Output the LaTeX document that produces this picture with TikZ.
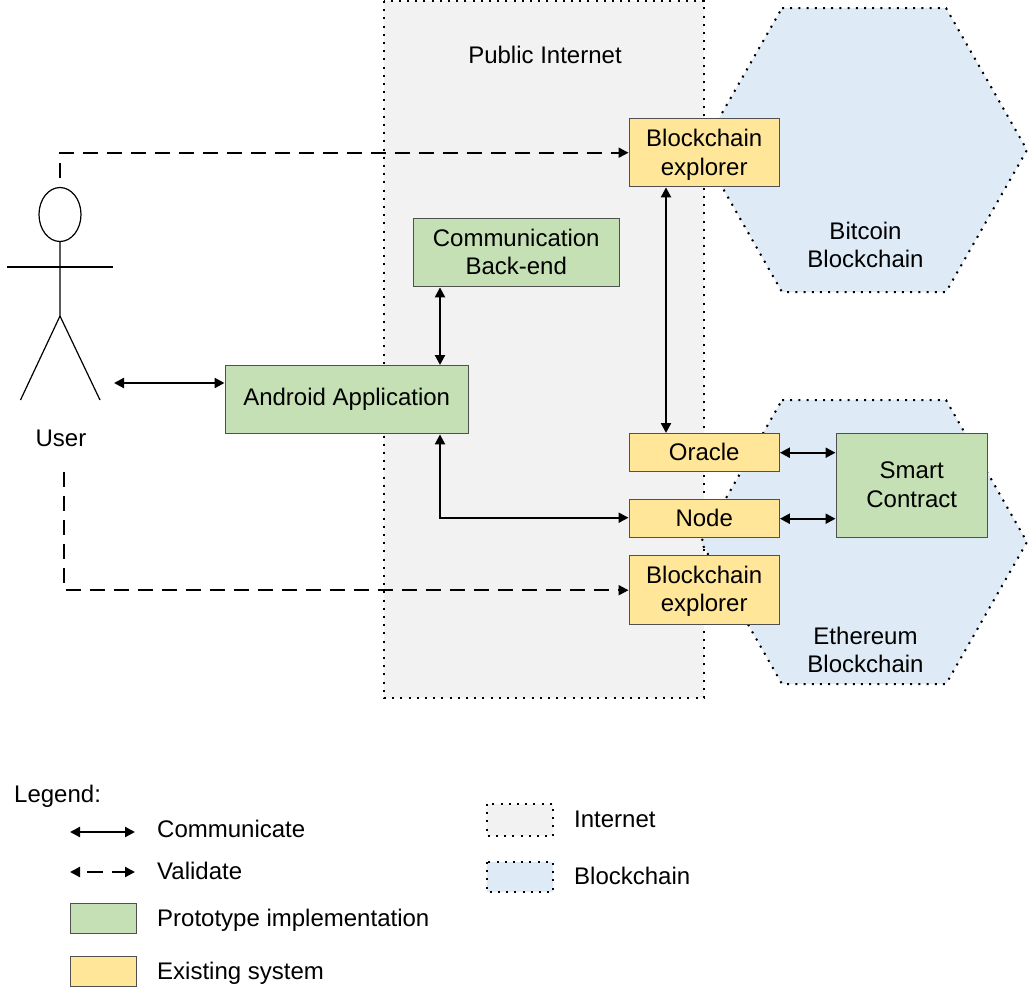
\documentclass[tikz,border=0pt]{standalone}
\usepackage{fontspec}
\setmainfont{Liberation Sans}
\usetikzlibrary{arrows.meta,shapes.geometric}
\definecolor{gfill}{HTML}{C5E0B4}
\definecolor{yfill}{HTML}{FFE699}
\definecolor{bfill}{HTML}{DEEBF7}
\definecolor{ifill}{HTML}{F2F2F2}
\definecolor{edge}{HTML}{505050}
\newcommand\tallpad[1]{\rule{0pt}{#1}}
\newcommand\deeppad[1]{\rule[-#1]{0pt}{#1}}
\tikzset{
  x=1pt,y=-1pt,
  every node/.style={font=\fontsize{24}{28.5}\selectfont,inner sep=0pt,align=center,text=black},
  bx/.style={draw=edge,line width=1.4pt,minimum width=#1,anchor=north west},
  protobox/.style={bx=#1,fill=gfill},
  existbox/.style={bx=#1,fill=yfill},
  dotline/.style={draw=black,line width=2pt,dash pattern=on 2pt off 6.2pt},
  link/.style={draw=black,line width=2.2pt,{Triangle[length=10pt,width=10pt]}-{Triangle[length=10pt,width=10pt]}},
  valid/.style={draw=black,line width=2pt,dash pattern=on 15pt off 9pt,-{Triangle[length=10pt,width=10pt]}},
  stick/.style={draw=black,line width=1.2pt},
  lbl/.style={anchor=west}
}
\begin{document}
\begin{tikzpicture}
\useasboundingbox (0,0) rectangle (1030,997);
% regions
\fill[white] (0,0) rectangle (1030,997);
\path[fill=ifill,dotline] (384,1) rectangle (704,698);
\path[fill=bfill,dotline] (782,8) -- (946,8) -- (1027,150) -- (946,292) -- (782,292) -- (701,150) -- cycle;
\path[fill=bfill,dotline] (782,400) -- (946,400) -- (1027,542) -- (946,684) -- (782,684) -- (701,542) -- cycle;
\node (pub) at (545,55) {Public Internet};
\node (btc) at (865.5,245) {Bitcoin\\Blockchain};
\node (eth) at (865.5,650) {Ethereum\\Blockchain};
% boxes
\node[existbox=150pt,minimum height=68pt] (ex1) at (628.5,118) {\tallpad{21.5pt}Blockchain\\explorer};
\node[protobox=206pt,minimum height=68pt] (comm) at (412.5,218) {Communication\\Back-end\deeppad{2pt}};
\node[protobox=243pt,minimum height=68pt] (app) at (224.5,365) {Android Application};
\node[existbox=150pt,minimum height=38pt] (orc) at (628.5,433) {Oracle\deeppad{2pt}};
\node[existbox=150pt,minimum height=38pt] (nd) at (628.5,499) {Node\deeppad{2pt}};
\node[existbox=150pt,minimum height=69pt] (ex2) at (628.5,555) {\tallpad{19.5pt}Blockchain\\explorer};
\node[protobox=151pt,minimum height=104pt] (sc) at (835.5,433) {Smart\\Contract\deeppad{2pt}};
% actor
\node[draw=black,line width=1.2pt,ellipse,minimum width=42pt,minimum height=54pt] (head) at (60,214.5) {};
\coordinate (hip) at (60,316);
\coordinate (armL) at (7,267);
\coordinate (armR) at (113,267);
\coordinate (legL) at (20.5,400);
\coordinate (legR) at (100,400);
\draw[stick] (head.south) -- (hip) -- (legL);
\draw[stick] (hip) -- (legR);
\draw[stick] (armL) -- (armR);
\node (user) at (61,438) {User};
% connectors
\coordinate (uTop) at (60,178);
\coordinate (uBot) at (64,472);
\coordinate (uSide) at (114,383);
\coordinate (vA) at (440,0);
\coordinate (vB) at (666,0);
\path[valid] (uTop) |- (ex1.west);
\path[valid] (uBot) |- (ex2.west);
\path[link] (uSide) -- (uSide -| app.west);
\path[link] (vA |- comm.south) -- (vA |- app.north);
\path[link] (vB |- ex1.south) -- (vB |- orc.north);
\path[link] (vA |- app.south) |- ([yshift=1pt]nd.west);
\path[link] (orc.east) -- (orc.east -| sc.west);
\path[link] (nd.east) -- (nd.east -| sc.west);
% legend
\node[lbl] (leg) at (14,796) {Legend:};
\coordinate (a1) at (70,832); \coordinate (a2) at (135,832);
\coordinate (b1) at (70,872); \coordinate (b2) at (135,872);
\path[link] (a1) -- (a2);
\draw[line width=2.2pt,dash pattern=on 16pt off 9pt,dash phase=17pt,{Triangle[length=10pt,width=10pt]}-{Triangle[length=10pt,width=10pt]}] (b1) -- (b2);
\node[lbl] (t1) at (157,829) {Communicate};
\node[lbl] (t2) at (157,871) {Validate};
\node[protobox=66pt,minimum height=30pt] (k1) at (70,903) {};
\node[lbl] (t3) at (157,920) {Prototype implementation};
\node[existbox=66pt,minimum height=30pt] (k2) at (70,956) {};
\node[lbl] (t4) at (157,973) {Existing system};
\path[fill=ifill,dotline] (487,804) rectangle (553,836);
\path[fill=bfill,dotline] (487,862) rectangle (553,892);
\node[lbl] (t5) at (574,819) {Internet};
\node[lbl] (t6) at (574,876) {Blockchain};
\end{tikzpicture}
\end{document}
